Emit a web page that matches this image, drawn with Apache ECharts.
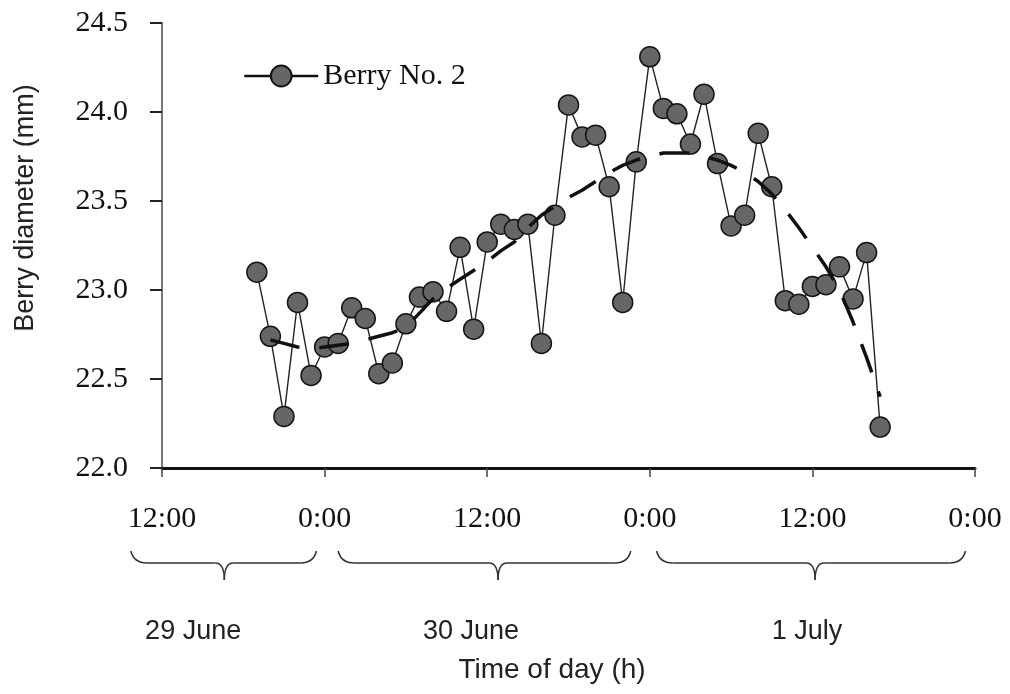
<!DOCTYPE html>
<html>
<head>
<meta charset="utf-8">
<script src="https://cdn.jsdelivr.net/npm/echarts@6/dist/echarts.min.js"></script>
<style>
  html, body { margin: 0; padding: 0; background: #ffffff; }
  #chart { width: 1010px; height: 694px; }
</style>
</head>
<body>
<div id="chart"></div>
<script>
// Hours elapsed since 12:00 on 29 June (hourly readings)
const hours = [7, 8, 9, 10, 11, 12, 13, 14, 15, 16, 17, 18, 19, 20, 21, 22, 23, 24,
  25, 26, 27, 28, 29, 30, 31, 32, 33, 34, 35, 36, 37, 38, 39, 40, 41, 42, 43, 44,
  45, 46, 47, 48, 49, 50, 51, 52, 53];
// Berry No. 2 diameter (mm)
const diameter = [23.10, 22.74, 22.29, 22.93, 22.52, 22.68, 22.70, 22.90, 22.84, 22.53,
  22.59, 22.81, 22.96, 22.99, 22.88, 23.24, 22.78, 23.27, 23.37, 23.34, 23.37, 22.70,
  23.42, 24.04, 23.86, 23.87, 23.58, 22.93, 23.72, 24.31, 24.02, 23.99, 23.82, 24.10,
  23.71, 23.36, 23.42, 23.88, 23.58, 22.94, 22.92, 23.02, 23.03, 23.13, 22.95, 23.21,
  22.23];
// Smoothed trend of the diameter
const trendHours = [8, 9, 10, 11, 12, 13, 14, 15, 16, 17, 18, 19, 20, 21, 22, 23, 24,
  25, 26, 27, 28, 29, 30, 31, 32, 33, 34, 35, 36, 37, 38, 39, 40, 41, 42, 43, 44,
  45, 46, 47, 48, 49, 50, 51, 52, 53];
const trendValues = [22.72, 22.70, 22.68, 22.67, 22.68, 22.69, 22.70, 22.72, 22.74, 22.76,
  22.79, 22.87, 22.95, 23.01, 23.06, 23.11, 23.16, 23.22, 23.27, 23.35, 23.42, 23.47,
  23.52, 23.56, 23.61, 23.66, 23.70, 23.73, 23.75, 23.77, 23.77, 23.77, 23.75, 23.73,
  23.70, 23.66, 23.61, 23.54, 23.45, 23.35, 23.24, 23.13, 23.00, 22.82, 22.62, 22.40];
const xTickLabels = ['12:00', '0:00', '12:00', '0:00', '12:00', '0:00'];
const dayNames = ['29 June', '30 June', '1 July'];

// Layout of the day braces (in axis hours): [left end, tip, right end], and label centre
const braceSpans = [[-2.3, 4.6, 11.4], [13.0, 24.8, 34.6], [36.5, 48.2, 59.3]];
const dayLabelAt = [2.3, 22.8, 47.6];

const SERIF = 'Liberation Serif';
const SANS = 'Liberation Sans';

const chart = echarts.init(document.getElementById('chart'), null, { renderer: 'canvas' });

const option = {
  backgroundColor: '#ffffff',
  animation: false,
  grid: { left: 162, right: 35, top: 23, bottom: 226, containLabel: false },
  legend: {
    data: ['Berry No. 2'],
    left: 238,
    top: 56,
    itemWidth: 74,
    itemHeight: 26,
    textStyle: { fontFamily: SERIF, fontSize: 30, color: '#111' },
    lineStyle: { width: 2.5, color: '#111' }
  },
  xAxis: {
    type: 'value',
    min: 0,
    max: 60,
    interval: 12,
    splitLine: { show: false },
    axisLine: { lineStyle: { color: '#111', width: 3 } },
    axisTick: { show: true, length: 9, lineStyle: { color: '#444', width: 1.5 } },
    axisLabel: {
      margin: 36,
      fontFamily: SERIF,
      fontSize: 30,
      color: '#111',
      formatter: (v) => xTickLabels[Math.round(v / 12)]
    }
  },
  yAxis: {
    type: 'value',
    min: 22,
    max: 24.5,
    interval: 0.5,
    splitLine: { show: false },
    axisLine: { show: true, lineStyle: { color: '#777', width: 2 } },
    axisTick: { show: true, length: 12, lineStyle: { color: '#222', width: 2 } },
    axisLabel: {
      margin: 34,
      fontFamily: SERIF,
      fontSize: 30,
      color: '#111',
      formatter: (v) => v.toFixed(1)
    }
  },
  series: [
    {
      name: 'Berry No. 2',
      type: 'line',
      data: hours.map((h, i) => [h, diameter[i]]),
      symbol: 'circle',
      symbolSize: 20,
      showSymbol: true,
      lineStyle: { color: '#222', width: 1.4 },
      itemStyle: { color: '#666666', borderColor: '#151515', borderWidth: 1.5 },
      z: 2
    },
    {
      name: 'Trend',
      type: 'line',
      data: trendHours.map((h, i) => [h, trendValues[i]]),
      symbol: 'none',
      lineStyle: { color: '#111', width: 3.5, type: [30, 20] },
      z: 3
    }
  ]
};

chart.setOption(option);

// Day braces, day names and axis titles
function xPx(h) { return chart.convertToPixel({ xAxisIndex: 0 }, h); }

const braceStyle = { fill: null, stroke: '#333', lineWidth: 1.5 };
const graphics = [];
braceSpans.forEach(([a, t, b]) => {
  const x1 = xPx(a), xt = xPx(t), x2 = xPx(b);
  const yTop = 551, yMid = 563, yTip = 580;
  const curve = (sx, sy, cx, cy, ex, ey) => ({
    type: 'bezierCurve',
    shape: { x1: sx, y1: sy, cpx1: cx, cpy1: cy, x2: ex, y2: ey },
    style: braceStyle
  });
  const seg = (sx, sy, ex, ey) => ({
    type: 'line',
    shape: { x1: sx, y1: sy, x2: ex, y2: ey },
    style: braceStyle
  });
  graphics.push(
    curve(x1, yTop, x1 + 3, yMid, x1 + 16, yMid),
    seg(x1 + 16, yMid, xt - 9, yMid),
    curve(xt - 9, yMid, xt, yMid, xt, yTip),
    curve(xt, yTip, xt, yMid, xt + 9, yMid),
    seg(xt + 9, yMid, x2 - 16, yMid),
    curve(x2 - 16, yMid, x2 - 3, yMid, x2, yTop)
  );
});
dayNames.forEach((name, i) => {
  graphics.push({
    type: 'text',
    x: xPx(dayLabelAt[i]),
    y: 632,
    style: {
      text: name, fontFamily: SANS, fontSize: 27, fill: '#222',
      textAlign: 'center', textVerticalAlign: 'middle'
    }
  });
});
graphics.push({
  type: 'text',
  x: 552,
  y: 670,
  style: {
    text: 'Time of day (h)', fontFamily: SANS, fontSize: 28, fill: '#222',
    textAlign: 'center', textVerticalAlign: 'middle'
  }
});
graphics.push({
  type: 'text',
  x: 26,
  y: 208,
  rotation: Math.PI / 2,
  style: {
    text: 'Berry diameter (mm)', fontFamily: SANS, fontSize: 27, fill: '#222',
    textAlign: 'center', textVerticalAlign: 'middle'
  }
});

chart.setOption({ graphic: graphics });
</script>
</body>
</html>
